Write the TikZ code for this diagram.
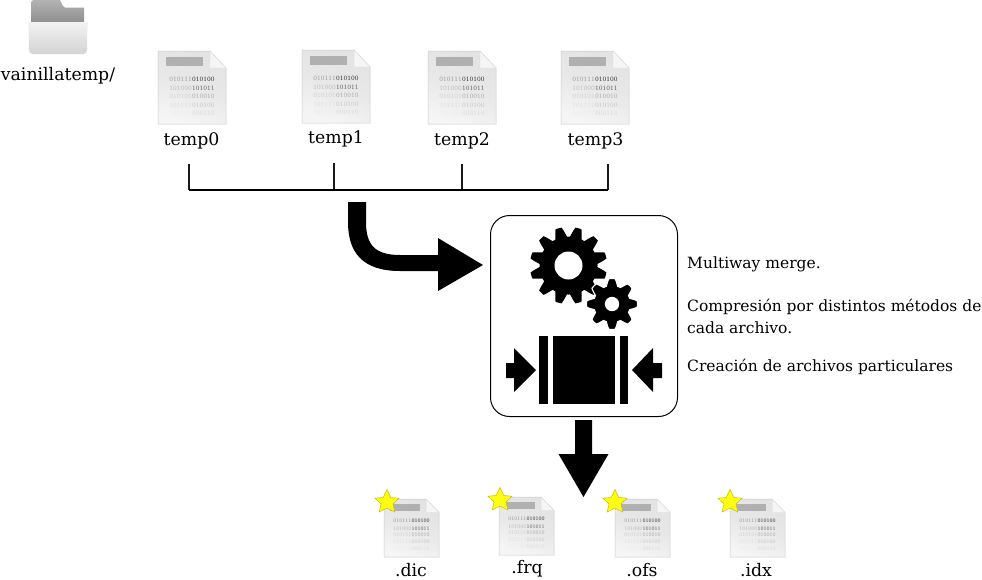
\documentclass[tikz,border=0pt]{standalone}
\usepackage{fontspec}
\setmainfont{DejaVu Serif}
\usetikzlibrary{positioning}
\definecolor{starfill}{HTML}{FFFC14}
\definecolor{starline}{HTML}{C8BE00}
\tikzset{
  lbl/.style={inner sep=0pt,font=\fontsize{17.3}{20}\selectfont,text=black},
  para/.style={inner sep=0pt,anchor=base west,font=\fontsize{15.5}{18}\selectfont,text=black},
  brk/.style={draw=black,line width=1.05pt},
  brkv/.style={draw=black!90,line width=1.5pt},
  solid black/.style={fill=black,draw=none},
  filebody/.style={draw=black!20,line width=.5pt,top color=black!11,bottom color=black!4,middle color=black!9,shading angle=-20},
  filefold/.style={fill=black!4,draw=black!14,line width=.4pt},
  filebar/.style={fill=black!31,draw=none},
}
% left, top, width, height
\newcommand{\fileicon}[4]{%
  \begin{scope}[shift={(#1,#2)},x=#3/68*1pt,y=-#4/73*1pt]
    \path[filebody] (0,0) -- (52,0) -- (68,17) -- (68,73) -- (0,73) -- cycle;
    \path[filefold] (52,0) -- (68,17) -- (52,17) -- cycle;
    \path[filebar] (8,6) rectangle (45,15);
    \pgfmathsetmacro{\fs}{5.9*#3/68}
    \foreach \yy/\bitsa/\bitsb/\shadea/\shadeb in {28/010111/010100/38/78,37/101000/101011/26/60,45/010101/010010/18/32,54/101111/010100/12/22,62/100101/000110/7/14}{
      \node[inner sep=0pt,font=\fontsize{\fs}{\fs}\selectfont] at (34,\yy) {{\color{black!\shadea}\bitsa}{\color{black!\shadeb}\bitsb}};
    }
  \end{scope}}
\newcommand{\stariconn}[2]{%
  \path[fill=starfill,draw=starline,line width=.5pt]
    (#1+0,#2-12.5) -- (#1+3.8,#2-4.5) -- (#1+12,#2-3.8) -- (#1+6,#2+2) -- (#1+7.8,#2+10)
    -- (#1+0,#2+6) -- (#1-7.8,#2+10) -- (#1-6,#2+2) -- (#1-12,#2-3.8) -- (#1-3.8,#2-4.5) -- cycle;}
\newcommand{\gearshape}[7]{% cx cy Ri Ro teeth phase extra-options
  \path[#7] plot[samples=481,domain=0:360,variable=\t]
    ({#1+(#3+(#4-#3)*max(0,min(1,0.58+0.72*cos(#5*(\t-#6)))))*cos(\t)},
     {#2+(#3+(#4-#3)*max(0,min(1,0.58+0.72*cos(#5*(\t-#6)))))*sin(\t)}) -- cycle;}
\begin{document}
\begin{tikzpicture}[x=1pt,y=-1pt]
\useasboundingbox (0,0) rectangle (982,579);
\fill[white] (0,0) rectangle (982,579);

% folder
\path[top color=black!30,bottom color=black!45,draw=none]
  (31,24) -- (31,2) -- (33,0) -- (60,0) -- (63,6) -- (65,7.5) -- (84,7.5) -- (84,24) -- cycle;
\path[top color=black!5,bottom color=black!17,draw=none]
  (28,22) -- (88,22) .. controls (87,32) and (87,45) .. (87,50) .. controls (87,53) and (85,54) .. (83,54)
  -- (33,54) .. controls (31,54) and (29,53) .. (29,50) .. controls (29,45) and (29,32) .. (28,22) -- cycle;
\node[lbl] (folderlabel) at (58,76) {vainillatemp/};

% source files
\fileicon{158}{51}{68}{73}
\fileicon{302}{50}{68}{73}
\fileicon{428}{51}{68}{73}
\fileicon{561}{51}{68}{73}
\node[lbl] (temp0) at (191.5,141) {temp0};
\node[lbl] (temp1) at (336,139) {temp1};
\node[lbl] (temp2) at (462,141) {temp2};
\node[lbl] (temp3) at (595.5,141) {temp3};

% bracket
\coordinate (a0) at (189,164); \coordinate (b0) at (189,190);
\coordinate (a1) at (334,163); \coordinate (b1) at (334,190);
\coordinate (a2) at (462,164); \coordinate (b2) at (462,190);
\coordinate (a3) at (608,164); \coordinate (b3) at (608,190);
\draw[brkv] (a0) -- (b0);
\draw[brkv] (a1) -- (b1);
\draw[brkv] (a2) -- (b2);
\draw[brkv] (a3) -- (b3);
\draw[brk] (b0) -- (b3);

% curved arrow
\path[solid black] (348,202) -- (366,202) -- (366,222)
  .. controls (366,245) and (375,255) .. (400,255) -- (438,255) -- (438,238) -- (483,265) -- (438,291) -- (438,271) -- (400,271)
  .. controls (362,271) and (348,252) .. (348,222) -- cycle;

% process box
\node[draw=black,line width=1pt,rounded corners=19pt,minimum width=187pt,minimum height=201pt,inner sep=0pt,anchor=north west] (proc) at (490,215) {};

% gears
\gearshape{568.5}{265.5}{29}{38.5}{12}{15}{fill=black}
\fill[white] (568.5,265.5) circle[radius=14];
\gearshape{612}{304}{18.5}{25.5}{8}{0}{fill=black,draw=white,line width=1.1pt}
\fill[white] (612,304) circle[radius=7.2];

% compressor
\path[solid black] (539,336) rectangle (548,404);
\path[solid black] (553,336) rectangle (615,404);
\path[solid black] (620,336) rectangle (628,404);
\path[solid black] (506,363) -- (514,363) -- (514,348) -- (536,370) -- (514,392) -- (514,378) -- (506,378) -- cycle;
\path[solid black] (662,363) -- (653,363) -- (653,348) -- (632,370) -- (653,392) -- (653,378) -- (662,378) -- cycle;

% down arrow
\path[solid black] (575,420) -- (592,420) -- (592,454) -- (608.5,454) -- (583.5,497) -- (558.5,454) -- (575,454) -- cycle;

% paragraph
\node[para] (t1) at (687,268) {Multiway merge.};
\node[para] (t2) at (687,311) {Compresión por distintos métodos de};
\node[para] (t3) at (687,333) {cada archivo.};
\node[para] (t4) at (687,371) {Creación de archivos particulares};

% result files
\fileicon{384}{499}{55}{58}
\fileicon{499}{497}{55}{58}
\fileicon{615}{499}{55}{58}
\fileicon{730}{499}{55}{58}
\stariconn{387}{502}
\stariconn{500}{500}
\stariconn{615}{502}
\stariconn{730}{502}
\node[lbl] (dic) at (411,570) {.dic};
\node[lbl] (frq) at (527,568.5) {.frq};
\node[lbl] (ofs) at (642,570) {.ofs};
\node[lbl] (idx) at (756,570) {.idx};
\end{tikzpicture}
\end{document}
